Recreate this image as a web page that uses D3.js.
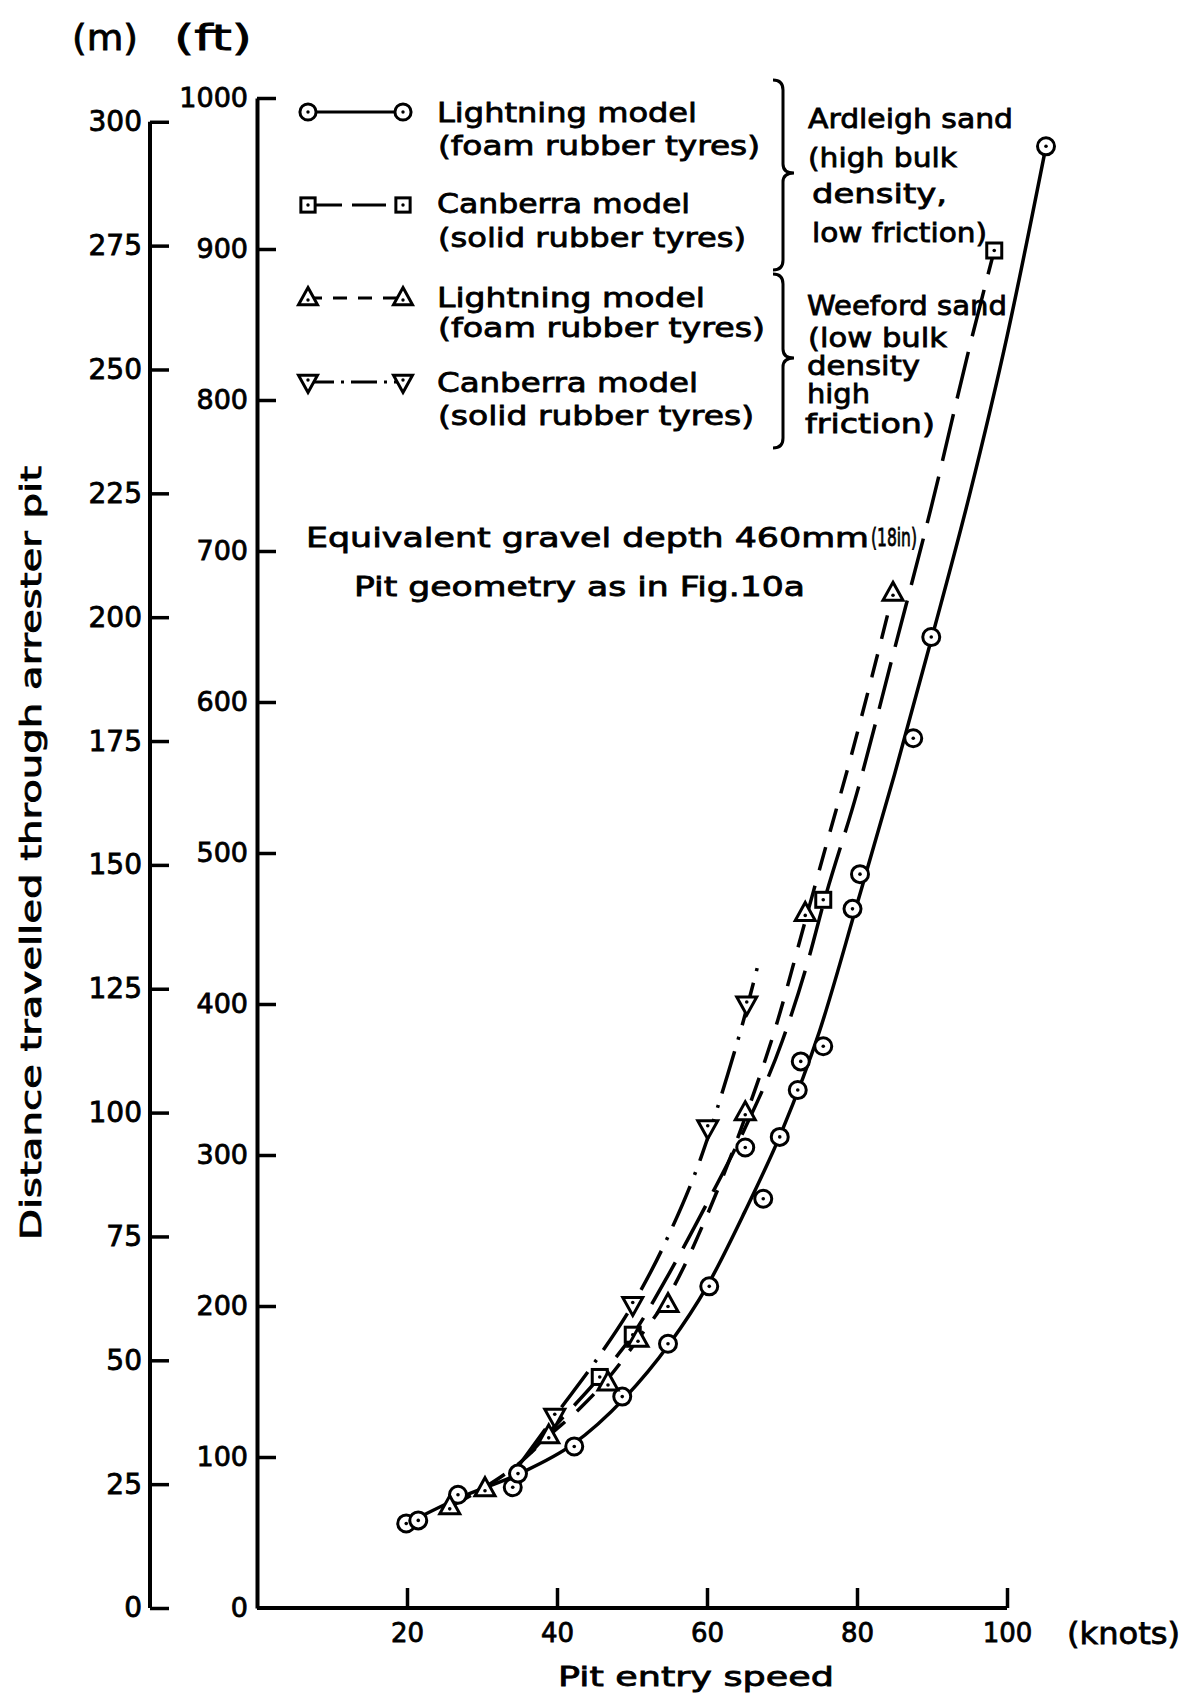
<!DOCTYPE html>
<html><head><meta charset="utf-8">
<script src="https://cdn.jsdelivr.net/npm/d3@7"></script>
<style>body{margin:0;background:#fff}text{font-family:"DejaVu Sans",sans-serif;fill:#000;stroke:#000;stroke-width:0.8px}</style>
</head><body>
<svg id="c" width="1190" height="1698"></svg>
<script>
// ---------- data ----------
const speedTicks = [20, 40, 60, 80, 100];
const ftTicks = [0, 100, 200, 300, 400, 500, 600, 700, 800, 900, 1000];
const mTicks = [0, 25, 50, 75, 100, 125, 150, 175, 200, 225, 250, 275, 300];

// Lightning model, foam rubber tyres, Ardleigh sand  (circles, solid) [knots, ft]
const lightningArdleighPts = [[19.9,56],[21.5,58],[26.8,75],[34.1,80],[34.8,89],[42.3,107],[48.7,140],[54.8,175],[60.3,213],[65.1,305],[67.5,271],[69.7,312],[72.1,343],[72.5,362],[75.5,372],[79.4,463],[80.4,486],[87.5,576],[89.9,643],[105.2,968]];
const lightningArdleighCurve = [[20,56],[27,73],[35,89],[42,108],[49,139],[55,175],[60,213],[65,262],[70,316],[75,382],[80,466],[85,552],[90,643],[95,737],[100,842],[105.2,968]];

// Canberra model, solid rubber tyres, Ardleigh sand (squares, long dash)
const canberraArdleighPts = [[45.7,153],[50.1,181],[75.5,469],[98.3,899]];
const canberraArdleighCurve = [[36.5,103],[40,122],[45.7,153],[50.1,181],[55,222],[60,268],[65,317],[70,375],[73.5,429],[75.5,466],[80,540],[85,635],[90,731],[95,835],[98.3,899]];

// Lightning model, foam rubber tyres, Weeford sand (triangles, short dash)
const lightningWeefordPts = [[25.7,67],[30.4,79],[38.9,114],[46.8,149],[50.8,178],[54.8,201],[65.1,328],[73.1,460],[84.8,672]];
const lightningWeefordCurve = [[25.7,67],[30.4,80],[35,96],[38.9,114],[43,132],[46.8,152],[50.8,178],[54.8,206],[60,260],[65.1,325],[69.3,387],[73.1,455],[76,507],[79.1,562],[82,617],[84.8,672]];

// Canberra model, solid rubber tyres, Weeford sand (inverted triangles, dash-dot)
const canberraWeefordPts = [[39.7,127],[50.1,201],[60.1,318],[65.3,400]];
const canberraWeefordCurve = [[35,95],[39.7,127],[45.5,166],[50.1,201],[55,248],[59.1,297],[62.8,354],[65.3,397],[66.7,424]];

const legendLabels = [["Lightning model","(foam rubber tyres)"],["Canberra model","(solid rubber tyres)"],["Lightning model","(foam rubber tyres)"],["Canberra model","(solid rubber tyres)"]];
const ardleighLabel = ["Ardleigh sand","(high bulk","density,","low friction)"];
const weefordLabel = ["Weeford sand","(low bulk","density","high","friction)"];

// ---------- scales ----------
const svg = d3.select("#c");
const x = d3.scaleLinear().domain([0,100]).range([257,1007]);
const y = d3.scaleLinear().domain([0,1000]).range([1608,98]);
const ym = d3.scaleLinear().domain([0,1000/3.28084]).range([1608,98]);

function styleAxis(g){
  g.selectAll("path.domain").attr("stroke","#000").attr("stroke-width",4);
  g.selectAll(".tick line").attr("stroke","#000").attr("stroke-width",3.5);
  g.selectAll(".tick text").attr("font-family","DejaVu Sans").attr("font-size",27).attr("fill","#000");
}

// ft axis
const gFt = svg.append("g").attr("transform","translate(257,0)")
  .call(d3.axisLeft(y).tickValues(ftTicks).tickSizeInner(-19).tickSizeOuter(0).tickPadding(9).tickFormat(d3.format("d")));
styleAxis(gFt);
gFt.selectAll(".tick").filter(d=>d===0).select("line").remove();

// m axis
const gM = svg.append("g").attr("transform","translate(150,0)")
  .call(d3.axisLeft(ym).tickValues(mTicks).tickSizeInner(-19).tickSizeOuter(0).tickPadding(8).tickFormat(d3.format("d")));
styleAxis(gM);
gM.select("path.domain").attr("d",`M0,${ym(0)}V${ym(300)}`);
gM.selectAll(".tick text").attr("font-size",28);

// x axis
const gX = svg.append("g").attr("transform","translate(0,1608)")
  .call(d3.axisBottom(x).tickValues(speedTicks).tickSizeInner(-20).tickSizeOuter(0).tickPadding(16).tickFormat(d3.format("d")));
styleAxis(gX);
gX.select("path.domain").attr("d",`M${x(0)},0H${x(100)}`);
gX.selectAll(".tick text").attr("font-size",26);

// ---------- text helper ----------
function txt(str,xx,yy,size,len,anchor){
  const t = svg.append("text").attr("x",xx).attr("y",yy).attr("font-size",size).text(str);
  if(len) t.attr("textLength",len).attr("lengthAdjust","spacingAndGlyphs");
  if(anchor) t.attr("text-anchor",anchor);
  return t;
}

txt("(m)",105,50,35,66,"middle");
txt("(ft)",213,50,35,78,"middle");
txt("(knots)",1067,1644,31,113);
txt("Pit entry speed",696,1686,27,276,"middle");
svg.append("text").attr("transform","translate(41,853) rotate(-90)")
  .attr("text-anchor","middle").attr("font-size",28).attr("textLength",774)
  .attr("lengthAdjust","spacingAndGlyphs").text("Distance travelled through arrester pit");

// ---------- curves ----------
const line = d3.line().x(d=>x(d[0])).y(d=>y(d[1])).curve(d3.curveMonotoneX);
const curves = [
  {data:lightningArdleighCurve, dash:null},
  {data:canberraArdleighCurve, dash:"48,16"},
  {data:lightningWeefordCurve, dash:"24,16"},
  {data:canberraWeefordCurve, dash:"44,12,3,12"}
];
curves.forEach(c=>{
  svg.append("path").attr("d",line(c.data)).attr("fill","none").attr("stroke","#000")
    .attr("stroke-width",3.5).attr("stroke-dasharray",c.dash);
});

// ---------- markers ----------
function marker(type,cx,cy,s){
  const g = svg.append("g").attr("transform",`translate(${cx},${cy})`);
  const st = {fill:"#fff",stroke:"#000","stroke-width":3};
  let el;
  if(type==="circle") el = g.append("circle").attr("r",8.5*s);
  else if(type==="square") el = g.append("rect").attr("x",-7.5*s).attr("y",-7.5*s).attr("width",15*s).attr("height",15*s);
  else if(type==="tri") el = g.append("path").attr("d",`M0,${-11*s}L${10*s},${7*s}L${-10*s},${7*s}Z`);
  else el = g.append("path").attr("d",`M0,${11*s}L${10*s},${-7*s}L${-10*s},${-7*s}Z`);
  Object.entries(st).forEach(([k,v])=>el.attr(k,v));
  g.append("circle").attr("r",1.8*s).attr("cy",type==="tri"?2:(type==="inv"?-2:0)).attr("fill","#000");
}
[[lightningArdleighPts,"circle"],[canberraArdleighPts,"square"],[lightningWeefordPts,"tri"],[canberraWeefordPts,"inv"]]
  .forEach(([pts,t])=>pts.forEach(p=>marker(t,x(p[0]),y(p[1]),1)));

// ---------- legend ----------
const legY = [112,205,298,382];
const legDash = [null,"34,10","14,11","26,7,3,7"];
const legType = ["circle","square","tri","inv"];
const legBase = [[122,155],[213,247],[307,337],[392,425]];
const legLen = [[260,322],[253,308],[268,327],[261,316]];
legY.forEach((ly,i)=>{
  svg.append("line").attr("x1",308).attr("x2",403).attr("y1",ly).attr("y2",ly)
    .attr("stroke","#000").attr("stroke-width",3).attr("stroke-dasharray",legDash[i]);
  marker(legType[i],308,ly,0.95);
  marker(legType[i],403,ly,0.95);
  txt(legendLabels[i][0],437,legBase[i][0],27,legLen[i][0]);
  txt(legendLabels[i][1],438,legBase[i][1],27,legLen[i][1]);
});

// braces
function brace(top,tip,bot){
  const xv=783, xl=773, xt=794;
  const d=`M${xl},${top} Q${xv},${top} ${xv},${top+10} L${xv},${tip-9} Q${xv},${tip} ${xt},${tip} Q${xv},${tip} ${xv},${tip+9} L${xv},${bot-10} Q${xv},${bot} ${xl},${bot}`;
  svg.append("path").attr("d",d).attr("fill","none").attr("stroke","#000").attr("stroke-width",3);
}
brace(80,173,270);
brace(274,358,448);

const ardBase=[128,167,203,242], ardX=[808,808,812,812], ardLen=[205,149,135,175];
ardleighLabel.forEach((s,i)=>txt(s,ardX[i],ardBase[i],27,ardLen[i]));
const weeBase=[315,347,375,403,433], weeX=[807,808,807,807,805], weeLen=[200,139,113,63,130];
weefordLabel.forEach((s,i)=>txt(s,weeX[i],weeBase[i],27,weeLen[i]));

// annotation
txt("Equivalent gravel depth 460mm",306,547,27,563);
txt("(18in)",871,546,24,46);
txt("Pit geometry as in Fig.10a",354,596,27,451);
</script>
</body></html>
